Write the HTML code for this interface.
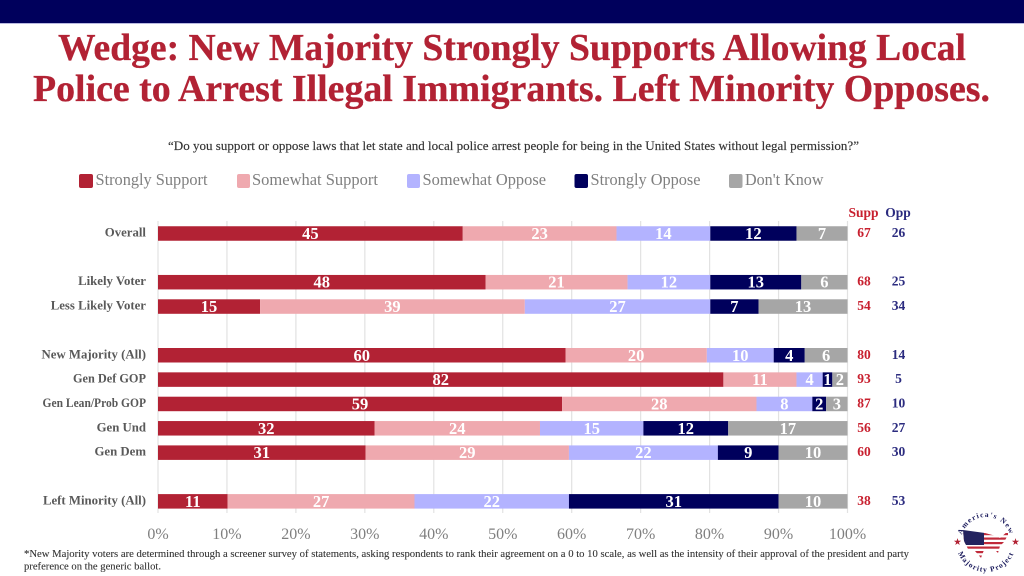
<!DOCTYPE html>
<html lang="en">
<head>
<meta charset="utf-8">
<title>Wedge: Local Police Arrest Support</title>
<style>
html,body{margin:0;padding:0;background:#fff;width:1024px;height:576px;overflow:hidden}
svg{display:block;font-family:"Liberation Serif",serif;filter:blur(0.35px)}
</style>
</head>
<body>
<svg id="chart" xmlns="http://www.w3.org/2000/svg" width="1024" height="576" viewBox="0 0 1024 576">
  <rect width="1024" height="576" fill="#fff"/>
  <rect width="1024" height="23" fill="#00005c"/>
  <rect y="23" width="1024" height="1" fill="#b9b9e0"/>

  <text x="58" y="60" textLength="908" lengthAdjust="spacingAndGlyphs" font-size="38" font-weight="700" fill="#b22234" stroke="#b22234" stroke-width="0.3">Wedge: New Majority Strongly Supports Allowing Local</text>
  <text x="33" y="101" textLength="957" lengthAdjust="spacingAndGlyphs" font-size="38" font-weight="700" fill="#b22234" stroke="#b22234" stroke-width="0.3">Police to Arrest Illegal Immigrants. Left Minority Opposes.</text>
  <text x="168" y="150" textLength="691" lengthAdjust="spacingAndGlyphs" font-size="13" fill="#333" stroke="#333" stroke-width="0.15">“Do you support or oppose laws that let state and local police arrest people for being in the United States without legal permission?”</text>

  <g font-size="16.5" fill="#7f7f7f">
    <g>
      <rect x="79" y="174" width="14" height="14" rx="2" fill="#b22234"/>
      <text x="95.500" y="185" textLength="112" lengthAdjust="spacingAndGlyphs">Strongly Support</text>
    </g>
    <g>
      <rect x="237" y="174" width="13" height="14" rx="2" fill="#efa9af"/>
      <text x="252" y="185" textLength="126" lengthAdjust="spacingAndGlyphs">Somewhat Support</text>
    </g>
    <g>
      <rect x="407" y="174" width="13" height="14" rx="2" fill="#b3b3ff"/>
      <text x="422.500" y="185" textLength="123.500" lengthAdjust="spacingAndGlyphs">Somewhat Oppose</text>
    </g>
    <g>
      <rect x="574.500" y="174" width="13.500" height="14" rx="2" fill="#00005c"/>
      <text x="590.500" y="185" textLength="110" lengthAdjust="spacingAndGlyphs">Strongly Oppose</text>
    </g>
    <g>
      <rect x="729" y="174" width="13.500" height="14" rx="2" fill="#a6a6a6"/>
      <text x="745" y="185" textLength="78.500" lengthAdjust="spacingAndGlyphs">Don't Know</text>
    </g>
  </g>

  <g id="grid"></g>
  <g id="bars"></g>
  <g id="rowLabels"></g>
  <g id="ticks"></g>
  <g id="totals"></g>

  <text x="863.500" y="217" text-anchor="middle" font-size="13.500" font-weight="700" fill="#c8202f">Supp</text>
  <text x="898" y="217" text-anchor="middle" font-size="13.500" font-weight="700" fill="#2b2b7f">Opp</text>

  <text x="24" y="557" textLength="885" lengthAdjust="spacingAndGlyphs" font-size="10.500" fill="#333" stroke="#333" stroke-width="0.1">*New Majority voters are determined through a screener survey of statements, asking respondents to rank their agreement on a 0 to 10 scale, as well as the intensity of their approval of the president and party</text>
  <text x="24" y="569.500" textLength="137" lengthAdjust="spacingAndGlyphs" font-size="10.500" fill="#333" stroke="#333" stroke-width="0.1">preference on the generic ballot.</text>

  <g>
    <defs>
      <path id="logoTop" d="M 962.500 550.500 A 25 25 0 1 1 1009.500 550.500"/>
      <path id="logoBottom" d="M 958 531.200 A 30 30 0 1 0 1014 531.200"/>
      <clipPath id="usClip">
        <path d="M963 530 L985 533 L996 536 L1000 538 L1008 531 L1008 535 L1004 542 L1000 546 L998 553 L994 549 L984 550 L981 558 L975 551 L968 549 L964 541 Z"/>
      </clipPath>
    </defs>
    <text font-size="7.500" font-weight="700" fill="#1a1a5c" letter-spacing="1.200"><textPath href="#logoTop" startOffset="50%" text-anchor="middle">America's New</textPath></text>
    <text font-size="7.500" font-weight="700" fill="#1a1a5c" letter-spacing="1.100"><textPath href="#logoBottom" startOffset="50%" text-anchor="middle">Majority Project</textPath></text>
    <text x="957.500" y="545" text-anchor="middle" font-size="9.500" fill="#b22234" font-family="'DejaVu Sans',sans-serif">★</text>
    <text x="1015.500" y="545" text-anchor="middle" font-size="9.500" fill="#b22234" font-family="'DejaVu Sans',sans-serif">★</text>
    <g clip-path="url(#usClip)">
      <rect x="960" y="528" width="50" height="32" fill="#fff"/>
      <rect x="960" y="533" width="50" height="2.200" fill="#c02a3a"/>
      <rect x="960" y="537.500" width="50" height="2.200" fill="#c02a3a"/>
      <rect x="960" y="542" width="50" height="2.200" fill="#c02a3a"/>
      <rect x="960" y="546.500" width="50" height="2.200" fill="#c02a3a"/>
      <rect x="960" y="551" width="50" height="2.200" fill="#c02a3a"/>
      <rect x="960" y="555.500" width="50" height="2.200" fill="#c02a3a"/>
      <rect x="960" y="528" width="24" height="17" fill="#23235f"/>
    </g>
  </g>
</svg>

<script>
// Chart data: one row per category; blank categories are spacer rows.
var categories = ['Overall', '', 'Likely Voter', 'Less Likely Voter', '', 'New Majority (All)', 'Gen Def GOP', 'Gen Lean/Prob GOP', 'Gen Und', 'Gen Dem', '', 'Left Minority (All)'];
var seriesNames = ['Strongly Support', 'Somewhat Support', 'Somewhat Oppose', 'Strongly Oppose', "Don't Know"];
var stronglySupport = [44.2, null, 47.5, 14.8, null, 59.1, 82.0, 58.6, 31.4, 30.1, null, 10.1];
var somewhatSupport = [22.3, null, 20.6, 38.4, null, 20.5, 10.6, 28.2, 24.0, 29.5, null, 27.1];
var somewhatOppose = [13.6, null, 12.0, 26.9, null, 9.7, 3.8, 8.1, 15.0, 21.6, null, 22.4];
var stronglyOppose = [12.5, null, 13.2, 7.0, null, 4.5, 1.4, 2.0, 12.3, 8.8, null, 30.4];
var dontKnow = [7.4, null, 6.7, 12.9, null, 6.2, 2.2, 3.1, 17.3, 10.0, null, 10.0];
var stronglySupportLabels = [45, null, 48, 15, null, 60, 82, 59, 32, 31, null, 11];
var somewhatSupportLabels = [23, null, 21, 39, null, 20, 11, 28, 24, 29, null, 27];
var somewhatOpposeLabels = [14, null, 12, 27, null, 10, 4, 8, 15, 22, null, 22];
var stronglyOpposeLabels = [12, null, 13, 7, null, 4, 1, 2, 12, 9, null, 31];
var dontKnowLabels = [7, null, 6, 13, null, 6, 2, 3, 17, 10, null, 10];
var suppTotals = [67, null, 68, 54, null, 80, 93, 87, 56, 60, null, 38];
var oppTotals = [26, null, 25, 34, null, 14, 5, 10, 27, 30, null, 53];
var tickValues = [0, 10, 20, 30, 40, 50, 60, 70, 80, 90, 100];

var seriesValues = [stronglySupport, somewhatSupport, somewhatOppose, stronglyOppose, dontKnow];
var seriesLabels = [stronglySupportLabels, somewhatSupportLabels, somewhatOpposeLabels, stronglyOpposeLabels, dontKnowLabels];
var seriesColors = ['#b22234', '#efa9af', '#b3b3ff', '#00005c', '#a6a6a6'];

var NS = 'http://www.w3.org/2000/svg';
function slug(s) { return s.toLowerCase().replace(/[^a-z0-9]+/g, '-').replace(/^-|-$/g, ''); }
function xScale(pct) { return 158 + pct * 6.895; }
function yScale(i) { return 233.5 + i * 24.35; }
function labelSqueeze(name) { return /Lean/.test(name) ? 0.9 : (/Def/.test(name) ? 0.96 : 1); }
function make(tag, parent, props, content) {
  var el = document.createElementNS(NS, tag);
  for (var k in props) el.setAttribute(k, props[k]);
  if (content !== undefined) el.textContent = content;
  parent.appendChild(el);
  return el;
}

var gridG = document.getElementById('grid');
var ticksG = document.getElementById('ticks');
var barsG = document.getElementById('bars');
var labelsG = document.getElementById('rowLabels');
var totalsG = document.getElementById('totals');

tickValues.forEach(function (t) {
  var line = make('line', gridG, { x1: xScale(t), x2: xScale(t), y1: 221, y2: 513, stroke: '#e2e2e2', 'stroke-width': 1.2 });
  
  
  var tick = make('text', ticksG, { x: xScale(t), y: 539, 'text-anchor': 'middle', 'font-size': 16, fill: '#7f7f7f' }, t + '%');
  
  
});

categories.forEach(function (cat, i) {
  if (!cat) return;
  var y = yScale(i);
  var rowName = slug(cat);

  var rowLabel = make('text', labelsG, { x: 146, y: y + 3, 'text-anchor': 'end', 'font-size': 12.8, 'font-weight': 700, fill: '#595959' }, cat);
  
  
  if (labelSqueeze(cat) !== 1) {
    rowLabel.setAttribute('textLength', rowLabel.getComputedTextLength() * labelSqueeze(cat));
    rowLabel.setAttribute('lengthAdjust', 'spacingAndGlyphs');
  }

  var cumulative = 0;
  seriesValues.forEach(function (values, s) {
    var v = values[i];
    var x0 = xScale(cumulative);
    var x1 = xScale(cumulative + v);
    cumulative += v;
    var bar = make('rect', barsG, { x: x0, y: y - 7.25, width: x1 - x0, height: 14.5, fill: seriesColors[s] });
    
    
  });

  cumulative = 0;
  seriesValues.forEach(function (values, s) {
    var v = values[i];
    var cx = xScale(cumulative + v / 2);
    cumulative += v;
    var valueLabel = make('text', barsG, { x: cx, y: y + 5.5, 'text-anchor': 'middle', 'font-size': 16.5, 'font-weight': 700, fill: '#ffffff' }, seriesLabels[s][i]);
    
    
  });

  var supp = make('text', totalsG, { x: 864, y: y + 3.5, 'text-anchor': 'middle', 'font-size': 13.5, 'font-weight': 700, fill: '#c8202f' }, suppTotals[i]);
  
  
  var opp = make('text', totalsG, { x: 898.5, y: y + 3.5, 'text-anchor': 'middle', 'font-size': 13.5, 'font-weight': 700, fill: '#2b2b7f' }, oppTotals[i]);
  
  
});
</script>
</body>
</html>
